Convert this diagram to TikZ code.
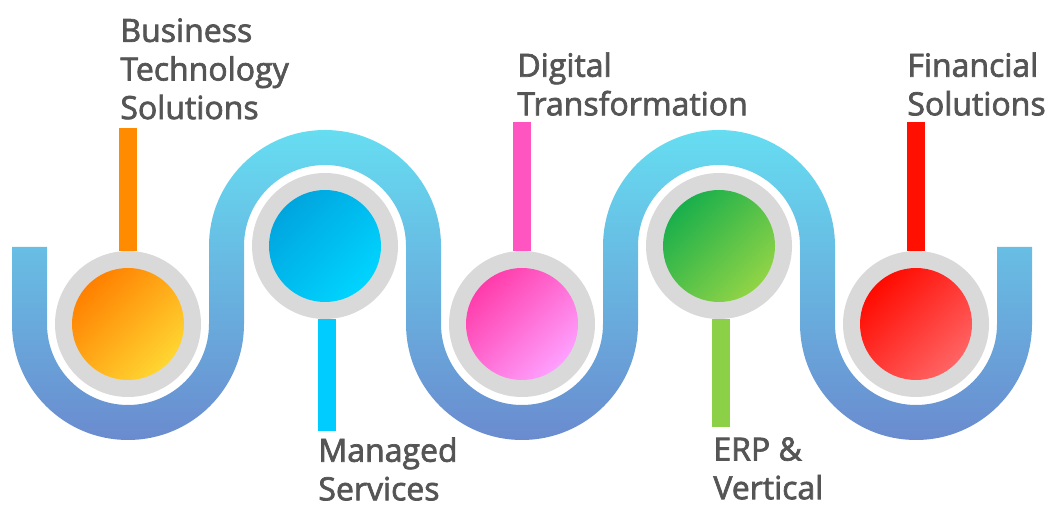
\documentclass[tikz,border=0pt]{standalone}
\usepackage{fontspec}
\setmainfont{Open Sans}
\newfontfamily\lblfont{Open Sans}[FakeBold=2.2]
\usepackage{tikz}

\definecolor{tubetop}{HTML}{66DDF1}
\definecolor{tubebot}{HTML}{6A8BCF}
\definecolor{ringgray}{HTML}{D9D9D9}
\definecolor{textgray}{HTML}{555555}
% dot and bar colours
\definecolor{orangeA}{RGB}{255,128,0}
\definecolor{orangeB}{RGB}{255,214,50}
\definecolor{orangebar}{RGB}{255,140,0}
\definecolor{blueA}{RGB}{0,165,222}
\definecolor{blueB}{RGB}{0,212,255}
\definecolor{bluebar}{RGB}{0,204,255}
\definecolor{pinkA}{RGB}{255,60,170}
\definecolor{pinkB}{RGB}{255,160,255}
\definecolor{pinkbar}{RGB}{255,85,192}
\definecolor{greenA}{RGB}{25,175,75}
\definecolor{greenB}{RGB}{145,212,70}
\definecolor{greenbar}{RGB}{140,208,72}
\definecolor{redA}{RGB}{255,10,0}
\definecolor{redB}{RGB}{255,100,100}
\definecolor{redbar}{RGB}{255,16,0}

\tikzset{
  ring/.style={circle, fill=ringgray, inner sep=0pt, minimum size=73pt},
  dot/.style 2 args={circle, inner sep=0pt, minimum size=56pt,
    top color=#1, bottom color=#2, shading angle=45},
  bar/.style={line width=9pt},
  lbl/.style={anchor=north west, inner sep=0pt, align=left, text=textgray,
    font=\lblfont\fontsize{16}{19.3}\selectfont}
}

\begin{document}
\begin{tikzpicture}[x=0.5pt,y=-0.5pt]
\useasboundingbox (0,0) rectangle (1048,506);

% the winding tube
\shade[top color=tubetop, bottom color=tubebot]
  (12,247) -- (12,324) arc[start angle=180, end angle=0, radius=116]
  -- (244,246) arc[start angle=180, end angle=360, radius=81]
  -- (406,324) arc[start angle=180, end angle=0, radius=116]
  -- (638,246) arc[start angle=180, end angle=360, radius=81]
  -- (800,324) arc[start angle=180, end angle=0, radius=116]
  -- (1032,247) -- (997,247)
  -- (997,324) arc[start angle=0, end angle=180, radius=81]
  -- (835,246) arc[start angle=360, end angle=180, radius=116]
  -- (603,324) arc[start angle=0, end angle=180, radius=81]
  -- (441,246) arc[start angle=360, end angle=180, radius=116]
  -- (209,324) arc[start angle=0, end angle=180, radius=81]
  -- (47,247) -- cycle;

% rings and coloured dots
\node[ring] (r1) at (128,324) {};
\node[ring] (r2) at (325,246) {};
\node[ring] (r3) at (522,324) {};
\node[ring] (r4) at (719,246) {};
\node[ring] (r5) at (916,324) {};

\node[dot={orangeA}{orangeB}] (d1) at (r1) {};
\node[dot={blueA}{blueB}] (d2) at (r2) {};
\node[dot={pinkA}{pinkB}] (d3) at (r3) {};
\node[dot={greenA}{greenB}] (d4) at (r4) {};
\node[dot={redA}{redB}] (d5) at (r5) {};

% labels
\node[lbl] (l1) at (120,18) {Business\\Technology\\Solutions};
\node[lbl] (l2) at (318,437) {Managed\\Services};
\node[lbl] (l3) at (517,52) {Digital\\Transformation};
\node[lbl] (l4) at (713,437) {ERP \&\\Vertical};
\node[lbl] (l5) at (907,52) {Financial\\Solutions};

% bars to the labels
\coordinate (b1) at (128,128);
\coordinate (b2) at (327,431);
\coordinate (b3) at (522,122);
\coordinate (b4) at (721,427);
\coordinate (b5) at (916,122);

\draw[bar, color=orangebar] (r1.north) -- (b1);
\draw[bar, color=bluebar] (r2.south -| b2) -- (b2);
\draw[bar, color=pinkbar] (r3.north) -- (b3);
\draw[bar, color=greenbar] (r4.south -| b4) -- (b4);
\draw[bar, color=redbar] (r5.north) -- (b5);

\end{tikzpicture}
\end{document}
